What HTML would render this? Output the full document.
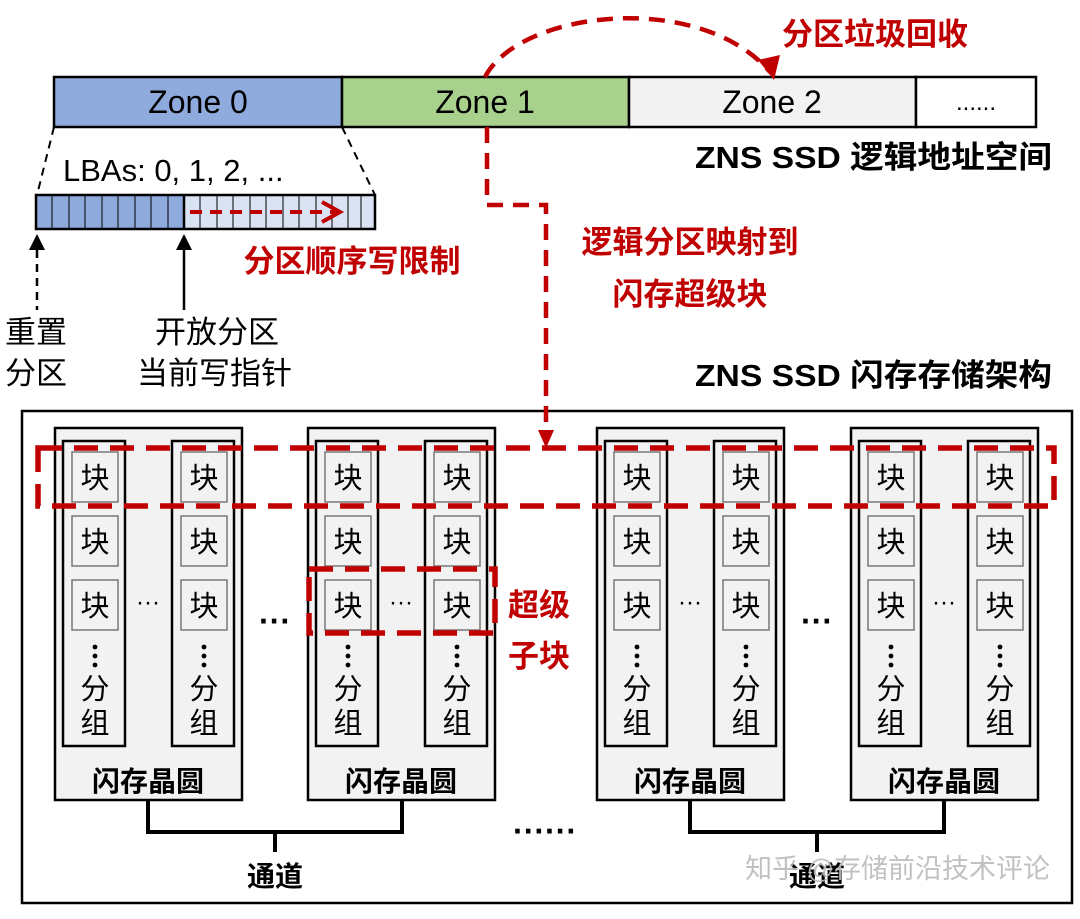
<!DOCTYPE html>
<html><head><meta charset="utf-8"><style>
html,body{margin:0;padding:0;background:#fff;}
svg text{font-family:"Liberation Sans","Noto Sans CJK SC",sans-serif;}
</style></head><body>
<svg width="1080" height="914" viewBox="0 0 1080 914" xmlns="http://www.w3.org/2000/svg">
<!-- zone bar -->
<rect x="54" y="77" width="288" height="50" fill="#8faadc" stroke="#000" stroke-width="2.5"/>
<rect x="342" y="77" width="287" height="50" fill="#a9d18e" stroke="#000" stroke-width="2.5"/>
<rect x="629" y="77" width="287" height="50" fill="#f2f2f2" stroke="#000" stroke-width="2.5"/>
<rect x="916" y="77" width="120" height="50" fill="#fff" stroke="#000" stroke-width="2.5"/>
<g font-size="32" text-anchor="middle" fill="#000">
<text x="198" y="113">Zone 0</text><text x="485" y="113">Zone 1</text><text x="772" y="113">Zone 2</text>
<text x="976" y="110" font-size="24">......</text>
</g>
<text x="1052" y="168" font-size="31" font-weight="bold" text-anchor="end" textLength="357" lengthAdjust="spacingAndGlyphs">ZNS SSD 逻辑地址空间</text>
<!-- arc -->
<path d="M485,77 C520,10 700,-10 770,72" fill="none" stroke="#c00000" stroke-width="4.5" stroke-dasharray="16,10"/>
<path d="M758,60 L774,80 L780,55 z" fill="#c00000"/>
<text x="875" y="45" font-size="31" font-weight="bold" fill="#c00000" text-anchor="middle">分区垃圾回收</text>
<!-- LBA zoom lines -->
<line x1="54" y1="127" x2="37" y2="195" stroke="#000" stroke-width="2" stroke-dasharray="8,6"/>
<line x1="342" y1="127" x2="375" y2="195" stroke="#000" stroke-width="2" stroke-dasharray="8,6"/>
<text x="63" y="181" font-size="31">LBAs: 0, 1, 2, ...</text>
<rect x="36" y="195" width="148" height="34" fill="#8faadc"/>
<rect x="184" y="195" width="191" height="34" fill="#dae3f3"/>
<g stroke="#000" stroke-width="1">
<line x1="52" y1="195" x2="52" y2="229"/><line x1="69" y1="195" x2="69" y2="229"/><line x1="85" y1="195" x2="85" y2="229"/><line x1="102" y1="195" x2="102" y2="229"/><line x1="118" y1="195" x2="118" y2="229"/><line x1="135" y1="195" x2="135" y2="229"/><line x1="151" y1="195" x2="151" y2="229"/><line x1="168" y1="195" x2="168" y2="229"/>
<line x1="200" y1="195" x2="200" y2="229"/><line x1="217" y1="195" x2="217" y2="229"/><line x1="233" y1="195" x2="233" y2="229"/><line x1="250" y1="195" x2="250" y2="229"/><line x1="266" y1="195" x2="266" y2="229"/><line x1="283" y1="195" x2="283" y2="229"/><line x1="299" y1="195" x2="299" y2="229"/><line x1="316" y1="195" x2="316" y2="229"/><line x1="332" y1="195" x2="332" y2="229"/><line x1="348" y1="195" x2="348" y2="229"/><line x1="361" y1="195" x2="361" y2="229"/>
</g>
<rect x="36" y="195" width="339" height="34" fill="none" stroke="#000" stroke-width="2.5"/>
<line x1="184" y1="195" x2="184" y2="229" stroke="#000" stroke-width="2.5"/>
<line x1="190" y1="212" x2="338" y2="212" stroke="#c00000" stroke-width="4" stroke-dasharray="12,8"/>
<path d="M322,202 L340,212 L322,222" fill="none" stroke="#c00000" stroke-width="4"/>
<text x="352" y="272" font-size="31" font-weight="bold" fill="#c00000" text-anchor="middle">分区顺序写限制</text>
<!-- pointer arrows -->
<line x1="37" y1="250" x2="37" y2="310" stroke="#000" stroke-width="2.5" stroke-dasharray="8,6"/>
<path d="M29,250 L37,234 L45,250 z" fill="#000"/>
<line x1="184" y1="250" x2="184" y2="310" stroke="#000" stroke-width="2.5"/>
<path d="M176,250 L184,234 L192,250 z" fill="#000"/>
<g font-size="31" fill="#000">
<text x="5" y="343">重置</text><text x="5" y="384">分区</text>
<text x="155" y="343">开放分区</text><text x="137" y="384">当前写指针</text>
</g>
<text x="1052" y="386" font-size="31" font-weight="bold" text-anchor="end" textLength="357" lengthAdjust="spacingAndGlyphs">ZNS SSD 闪存存储架构</text>
<!-- outer box -->
<rect x="22" y="411" width="1050" height="492" fill="#fff" stroke="#000" stroke-width="2.5"/>
<!-- mapping line -->
<path d="M487,127 L487,205 L546,205 L546,436" fill="none" stroke="#c00000" stroke-width="4.5" stroke-dasharray="16,10"/>
<path d="M538,430 L546,448 L554,430 z" fill="#c00000"/>
<text x="690" y="253" font-size="31" font-weight="bold" fill="#c00000" text-anchor="middle">逻辑分区映射到</text>
<text x="690" y="305" font-size="31" font-weight="bold" fill="#c00000" text-anchor="middle">闪存超级块</text>
<!-- wafers -->
<g id="w">
<rect x="55" y="428" width="187" height="372" fill="#f2f2f2" stroke="#000" stroke-width="2.5"/>
<rect x="63" y="441" width="62" height="305" fill="#f2f2f2" stroke="#000" stroke-width="2.5"/>
<rect x="172" y="441" width="62" height="305" fill="#f2f2f2" stroke="#000" stroke-width="2.5"/>
<g fill="#f2f2f2" stroke="#777" stroke-width="1.5">
<rect x="72" y="452" width="46" height="50"/><rect x="72" y="516" width="46" height="50"/><rect x="72" y="580" width="46" height="50"/>
<rect x="181" y="452" width="46" height="50"/><rect x="181" y="516" width="46" height="50"/><rect x="181" y="580" width="46" height="50"/>
</g>
<g font-size="29" text-anchor="middle" fill="#000">
<text x="95" y="488">块</text><text x="95" y="552">块</text><text x="95" y="616">块</text>
<text x="204" y="488">块</text><text x="204" y="552">块</text><text x="204" y="616">块</text>
<text x="95" y="699">分</text><text x="95" y="733">组</text>
<text x="204" y="699">分</text><text x="204" y="733">组</text>
<text x="148" y="610" font-size="24">···</text>
<text x="148" y="791" font-size="28" font-weight="bold">闪存晶圆</text>
</g>
<g fill="#000"><circle cx="95" cy="647" r="2.4"/><circle cx="95" cy="656" r="2.4"/><circle cx="95" cy="665" r="2.4"/>
<circle cx="204" cy="647" r="2.4"/><circle cx="204" cy="656" r="2.4"/><circle cx="204" cy="665" r="2.4"/></g>
</g>
<use href="#w" x="253"/>
<use href="#w" x="542"/>
<use href="#w" x="796"/>
<!-- dots between -->
<g font-size="32" font-weight="bold" text-anchor="middle"><text x="275" y="632">···</text><text x="817" y="632">···</text><text x="545" y="842">······</text></g>
<!-- channels -->
<g fill="none" stroke="#000" stroke-width="4">
<path d="M148,800 L148,832 L402,832 L402,800"/><line x1="275" y1="832" x2="275" y2="852"/>
<path d="M690,800 L690,832 L944,832 L944,800"/><line x1="817" y1="832" x2="817" y2="852"/>
</g>
<g font-size="28" font-weight="bold" text-anchor="middle"><text x="275" y="886">通道</text><text x="817" y="886">通道</text></g>
<!-- red dashed regions -->
<rect x="38" y="448" width="1016" height="58" fill="none" stroke="#c00000" stroke-width="5.5" stroke-dasharray="24,12"/>
<rect x="309" y="569" width="186" height="64" fill="none" stroke="#c00000" stroke-width="5.5" stroke-dasharray="24,12"/>
<text x="508" y="616" font-size="31" font-weight="bold" fill="#c00000">超级</text>
<text x="508" y="667" font-size="31" font-weight="bold" fill="#c00000">子块</text>
<text x="1050" y="878" font-size="27" fill="#bbb" text-anchor="end" opacity="0.9">知乎 @存储前沿技术评论</text>
</svg>
</body></html>
